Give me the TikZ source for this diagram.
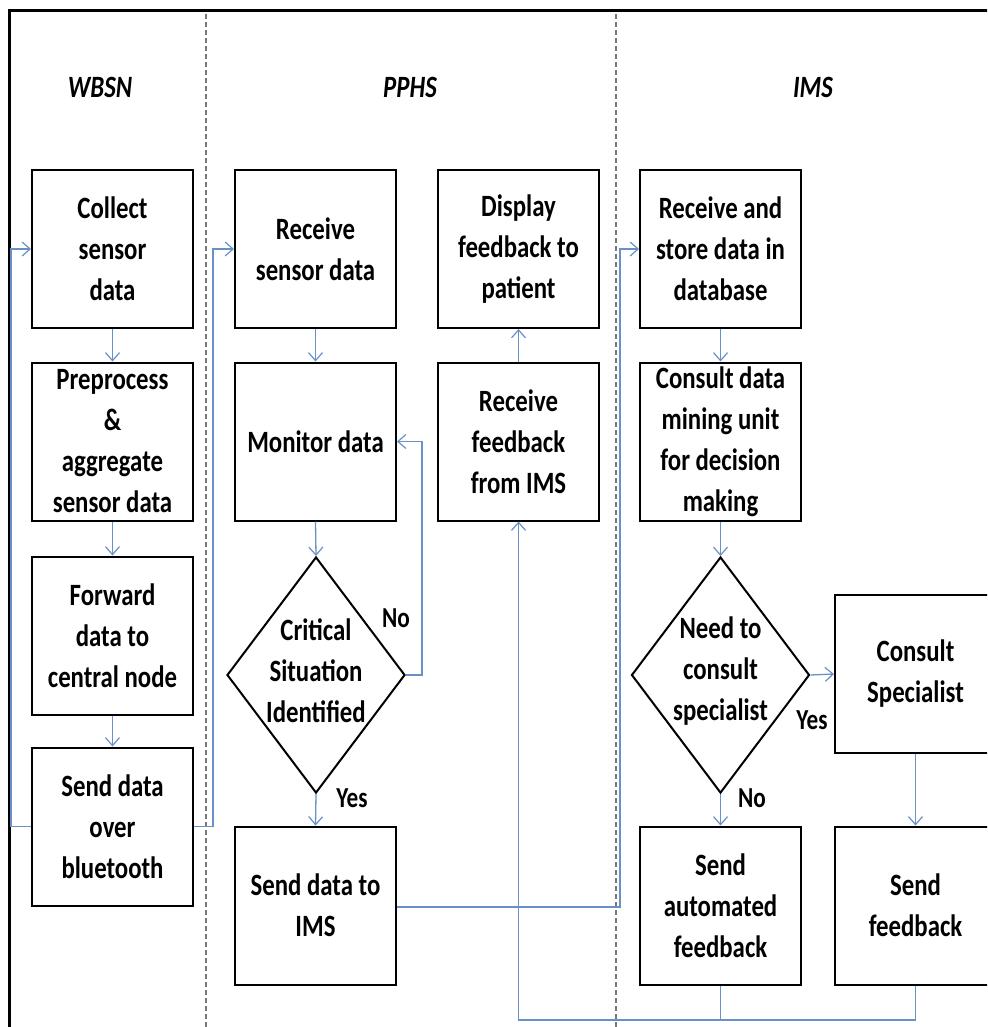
\documentclass[tikz,border=0pt]{standalone}
\usepackage{fontspec}
\setmainfont{Carlito}[FakeStretch=0.8]
\usetikzlibrary{arrows.meta,shapes.geometric}
\definecolor{conncol}{RGB}{105,145,200}
\definecolor{dashcol}{RGB}{120,120,120}
\begin{document}
\begin{tikzpicture}[x=1pt,y=-1pt,
  box/.style={draw=black,line width=2pt,minimum width=161pt,minimum height=158pt,inner sep=0pt,align=center,font=\fontsize{31}{41}\selectfont\bfseries},
  dia/.style={draw=black,line width=2pt,diamond,minimum width=178pt,minimum height=236pt,inner sep=0pt},
  txt/.style={align=center,inner sep=0pt,font=\fontsize{31}{41}\selectfont\bfseries},
  lbl/.style={inner sep=0pt,font=\fontsize{29}{35}\selectfont\bfseries},
  title/.style={inner sep=0pt,font=\fontsize{31}{38}\selectfont\itshape\bfseries},
  conn/.style={draw=conncol,line width=1.3pt},
  arr/.style={conn,-{Straight Barb[length=8pt,width=14pt,line width=1.2pt]}},
  lane/.style={draw=dashcol,line width=1.5pt,dash pattern=on 5pt off 3pt}]
\clip (0,0) rectangle (987,1027);
\fill[white] (0,0) rectangle (987,1027);
% frame
\draw[line width=3pt] (9,1040) -- (9,11) -- (1000,11);
\draw[lane] (206,14) -- (206,1030);
\draw[lane] (616,14) -- (616,1030);
% titles
\node[title] (tw) at (100,87) {WBSN};
\node[title] (tp) at (410,87) {PPHS};
\node[title] (ti) at (813,87) {IMS};
% column 1
\node[box] (c1) at (112.5,249) {Collect\\sensor\\data};
\node[box] (c2) at (112.5,441.5) {Preprocess\\\&\\aggregate\\sensor data};
\node[box] (c3) at (112.5,635.5) {Forward\\data to\\central node};
\node[box] (c4) at (112.5,826.5) {Send data\\over\\bluetooth};
% column 2
\node[box] (r1) at (315.5,249) {Receive\\sensor data};
\node[box] (r2) at (315.5,441.5) {Monitor data};
\node[dia] (d1) at (316,675) {};
\node[txt] (d1t) at (316,671) {Critical\\Situation\\Identified};
\node[box] (s1) at (315.5,905.5) {Send data to\\IMS};
% column 3
\node[box] (p1) at (518.5,249) {Display\\feedback to\\patient};
\node[box] (p2) at (518.5,441.5) {Receive\\feedback\\from IMS};
% column 4
\node[box] (i1) at (720.5,249) {Receive and\\store data in\\database};
\node[box] (i2) at (720.5,441.5) {Consult data\\mining unit\\for decision\\making};
\node[dia] (d2) at (720.5,675) {};
\node[txt] (d2t) at (720.5,671) {Need to\\consult\\specialist};
\node[box] (sa) at (720.5,905.5) {Send\\automated\\feedback};
% column 5
\node[box] (cs) at (915.5,674) {Consult\\Specialist};
\node[box] (sf) at (915.5,905.5) {Send\\feedback};
% labels
\node[lbl] (lno1) at (396,618) {No};
\node[lbl] (lyes1) at (352,798) {Yes};
\node[lbl] (lyes2) at (812,720) {Yes};
\node[lbl] (lno2) at (752,798) {No};
% connectors column 1
\draw[arr] (c1.south) -- (c2.north);
\draw[arr] (c2.south) -- (c3.north);
\draw[arr] (c3.south) -- (c4.north);
\draw[arr] (c4.west) -| ([xshift=-20pt]c1.west) -- (c1.west);
\draw[arr] (c4.east) -| ([xshift=-21pt]r1.west) -- (r1.west);
% column 2
\draw[arr] (r1.south) -- (r2.north);
\draw[arr] (r2.south) -- (d1.north);
\draw[arr] (d1.south) -- (s1.north);
\draw[arr] (d1.east) -| ([xshift=25pt]r2.east) -- (r2.east);
% column 3
\draw[arr] (p2.north) -- (p1.south);
% to IMS
\draw[arr] ([yshift=-1.5pt]s1.east) -| ([xshift=-19pt]i1.west) -- (i1.west);
% column 4
\draw[arr] (i1.south) -- (i2.north);
\draw[arr] (i2.south) -- (d2.north);
\draw[arr] (d2.south) -- (sa.north);
\draw[arr] (d2.east) -- (cs.west);
\draw[arr] (cs.south) -- (sf.north);
% feedback back
\coordinate (bot) at (0,1020);
\draw[conn] (sa.south) -- (sa.south |- bot);
\draw[arr] (sf.south) -- (sf.south |- bot) -- (p2.south |- bot) -- (p2.south);
\end{tikzpicture}
\end{document}
